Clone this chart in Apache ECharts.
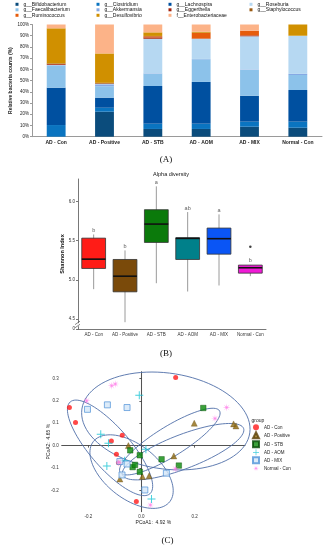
<!DOCTYPE html>
<html><head><meta charset="utf-8">
<script src="https://cdn.jsdelivr.net/npm/echarts@6/dist/echarts.min.js"></script>
<style>html,body{margin:0;padding:0;background:#fff}#c{width:326px;height:550px}</style>
</head><body><div id="c"></div>
<script>
// ---------- DATA ----------
const groups = ['AD - Con','AD - Positive','AD - STB','AD - AOM','AD - MIX','Normal - Con'];

// Panel A: relative abundance (%) per group
const bifidobacterium    = [0, 22.3, 6.9, 6.9, 8.9, 8.0];
const clostridium        = [10.4, 3.5, 4.7, 4.7, 4.5, 5.4];
const lachnospira        = [33.3, 9.0, 33.6, 37.2, 23.1, 28.2];
const faecalibacterium   = [19.8, 10.2, 11.0, 20.2, 23.2, 13.4];
const akkermansia        = [0.3, 1.7, 0.3, 0.3, 0.3, 1.0];
const roseburia          = [0.2, 0.3, 30.8, 17.9, 29.5, 34.0];
const eggerthella        = [0.7, 0.3, 1.2, 0.3, 0.8, 0];
const ruminococcus       = [0.1, 0.1, 1.0, 5.0, 4.2, 0];
const staphylococcus     = [0.5, 0.6, 0.3, 0.2, 0, 0];
const desulfovibrio      = [31.3, 26.2, 3.2, 0.8, 0, 10.0];
const enterobacteriaceae = [3.4, 25.8, 7.0, 6.5, 5.5, 0];
const legendRow1 = ['g__Bifidobacterium','g__Clostridium','g__Lachnospira','g__Roseburia'];
const legendRow2 = ['g__Faecalibacterium','g__Akkermansia','g__Eggerthella','g__Staphylococcus'];
const legendRow3 = ['g__Ruminococcus','g__Desulfovibrio','f__Enterobacteriaceae'];

// Panel B: Shannon index boxplots
const boxLow    = [4.88, 4.457, 4.956, 4.85, 4.927, 5.046];
const boxQ1     = [5.145, 4.846, 5.478, 5.26, 5.328, 5.085];
const boxMedian = [5.264, 5.046, 5.713, 5.53, 5.526, 5.154];
const boxQ3     = [5.533, 5.26, 5.897, 5.538, 5.662, 5.188];
const boxHigh   = [5.58, 5.376, 6.196, 5.867, 5.837, 5.19];
const letters   = ['b','b','a','ab','a','b'];
const outliers  = [[5, 5.423]];
const shannonTicks = [4.37, 4.5, 5.0, 5.5, 6.0];

// Panel C: PCoA points
const pcoaADCon = [[0.129,0.304],[-0.271,0.170],[-0.248,0.103],[-0.113,0.021],[-0.072,0.046],[-0.094,-0.038],[-0.086,-0.076],[-0.019,-0.250]];
const pcoaADPositive = [[-0.049,0.0],[-0.081,-0.149],[0.004,-0.138],[0.029,-0.135],[0.122,-0.046],[0.199,0.100],[0.347,0.097],[0.356,0.088]];
const pcoaADSTB = [[0.233,0.168],[-0.042,-0.021],[-0.006,-0.043],[0.076,-0.061],[0.141,-0.089],[-0.033,-0.096],[-0.024,-0.086],[-0.006,-0.117]];
const pcoaADAOM = [[-0.008,0.225],[-0.153,0.051],[-0.124,0.011],[0.017,-0.016],[-0.130,-0.091],[-0.063,-0.068],[0.038,-0.238]];
const pcoaADMIX = [[-0.203,0.162],[-0.128,0.182],[-0.054,0.170],[-0.081,-0.071],[-0.054,-0.082],[-0.073,-0.131],[0.013,-0.198],[0.094,-0.123]];
const pcoaNormal = [[-0.112,0.267],[-0.098,0.275],[-0.206,0.200],[0.321,0.170],[0.277,0.121],[0.128,-0.104],[0.034,-0.265],[-0.085,-0.074]];
// confidence ellipses: centre x, centre y, conjugate semi-axis vectors (u, v)
const ellipses = [
  [0.092, 0.110, 0.316, -0.053, -0.025, -0.212],
  [-0.118, -0.010, 0.150, -0.205, -0.057, -0.059],
  [-0.037, -0.116, 0.144, -0.134, -0.062, -0.095],
  [0.107, 0.018, 0.187, 0.1375, 0.0295, -0.057],
  [0.157, -0.027, 0.2276, 0.104, 0.0229, -0.071]
];
const pcoaXTicks = [-0.2, 0, 0.2];
const pcoaYTicks = [-0.2,-0.1,0,0.1,0.2,0.3];

// ---------- CHART ----------
const F = '"Liberation Sans", Arial, sans-serif';
const chart = echarts.init(document.getElementById('c'));

const stackDefs = [
  ['g__Bifidobacterium', bifidobacterium, '#0b4c7c'],
  ['g__Clostridium', clostridium, '#0a74c0'],
  ['g__Lachnospira', lachnospira, '#0050a0'],
  ['g__Faecalibacterium', faecalibacterium, '#8cc2ea'],
  ['g__Akkermansia', akkermansia, '#86a9e4'],
  ['g__Roseburia', roseburia, '#b6d8f2'],
  ['g__Eggerthella', eggerthella, '#a3220c'],
  ['g__Ruminococcus', ruminococcus, '#e65c0c'],
  ['g__Staphylococcus', staphylococcus, '#9a5a12'],
  ['g__Desulfovibrio', desulfovibrio, '#d09000'],
  ['f__Enterobacteriaceae', enterobacteriaceae, '#fcb388']
];
const boxColors = ['#ff1c17','#7a4a0a','#0b7a0b','#00808a','#0a55f5','#f01ad6'];

// symbol paths
const plusPath = 'path://M4.4,0H5.6V4.4H10V5.6H5.6V10H4.4V5.6H0V4.4H4.4Z';
const starPath = (function(){
  let s = 'path://';
  for (let k = 0; k < 16; k++) {
    const a = k * Math.PI / 8 - Math.PI / 2;
    const r = (k % 2 === 0) ? 5 : 1.1;
    s += (k === 0 ? 'M' : 'L') + (5 + r * Math.cos(a)).toFixed(3) + ',' + (5 + r * Math.sin(a)).toFixed(3);
  }
  return s + 'Z';
})();

// legend grid for panel A (one component per cell, to keep columns aligned)
const colLefts = [15.5, 96.5, 168.5, 249.5];
const rowTops = [1.8, 7.3, 12.8];
const legendsA = [];
[legendRow1, legendRow2, legendRow3].forEach((row, r) => {
  row.forEach((name, c) => {
    legendsA.push({
      data: [name], top: rowTops[r], left: colLefts[c], orient: 'horizontal', padding: 0,
      itemWidth: 3, itemHeight: 3, icon: 'rect', selectedMode: false,
      textStyle: {fontSize: 5, fontFamily: F, color: '#111'}
    });
  });
});

const series = [];
stackDefs.forEach(d => {
  series.push({
    name: d[0], type: 'bar', stack: 'taxa', xAxisIndex: 0, yAxisIndex: 0,
    data: d[1], barWidth: '39%', itemStyle: {color: d[2]}, silent: true
  });
});

series.push({
  name: 'box', type: 'custom', xAxisIndex: 1, yAxisIndex: 1,
  data: groups.map((g, i) => [i, boxLow[i], boxQ1[i], boxMedian[i], boxQ3[i], boxHigh[i]]),
  encode: {x: 0, y: [1,2,3,4,5]},
  renderItem: function(params, api) {
    const i = api.value(0);
    const w = api.size([1, 0])[0] * 0.76;
    const pLow = api.coord([i, api.value(1)]);
    const pQ1 = api.coord([i, api.value(2)]);
    const pMed = api.coord([i, api.value(3)]);
    const pQ3 = api.coord([i, api.value(4)]);
    const pHigh = api.coord([i, api.value(5)]);
    const x = pLow[0];
    return {type: 'group', children: [
      {type: 'line', shape: {x1: x, y1: pHigh[1], x2: x, y2: pLow[1]}, style: {stroke: '#9a9a9a', lineWidth: 1}},
      {type: 'rect', shape: {x: x - w / 2, y: pQ3[1], width: w, height: pQ1[1] - pQ3[1]}, style: {fill: boxColors[i], stroke: '#333', lineWidth: 0.8}},
      {type: 'line', shape: {x1: x - w / 2, y1: pMed[1], x2: x + w / 2, y2: pMed[1]}, style: {stroke: '#111', lineWidth: 1.6}}
    ]};
  }
});
series.push({
  name: 'letters', type: 'scatter', xAxisIndex: 1, yAxisIndex: 1, symbolSize: 0,
  data: groups.map((g, i) => [i, boxHigh[i]]),
  label: {show: true, position: 'top', distance: 1, fontSize: 5.5, fontFamily: F, color: '#333',
    formatter: p => letters[p.dataIndex]}, silent: true
});
series.push({
  name: 'outlier', type: 'scatter', xAxisIndex: 1, yAxisIndex: 1, symbolSize: 2.5,
  itemStyle: {color: '#111'}, data: outliers, silent: true
});

series.push({
  name: 'ellipse', type: 'custom', xAxisIndex: 2, yAxisIndex: 2, z: 1, clip: false,
  data: ellipses, encode: {x: 0, y: 1}, silent: true,
  renderItem: function(params, api) {
    const cx = api.value(0), cy = api.value(1), ux = api.value(2), uy = api.value(3), vx = api.value(4), vy = api.value(5);
    const pts = [];
    for (let k = 0; k <= 90; k++) {
      const t = k / 90 * Math.PI * 2;
      pts.push(api.coord([cx + ux * Math.cos(t) + vx * Math.sin(t), cy + uy * Math.cos(t) + vy * Math.sin(t)]));
    }
    return {type: 'polyline', shape: {points: pts}, style: {fill: null, stroke: '#4f6ea8', lineWidth: 0.9}};
  }
});

const scatterDefs = [
  ['AD - Con', pcoaADCon, 'circle', 5, {color: '#ff1a1a'}],
  ['AD - Positive', pcoaADPositive, 'triangle', 6, {color: '#8f6a10', borderColor: '#5a4008', borderWidth: 0.4}],
  ['AD - STB', pcoaADSTB, 'rect', 5.5, {color: '#0a8a0a', borderColor: '#064a06', borderWidth: 0.5}],
  ['AD - AOM', pcoaADAOM, plusPath, 8, {color: '#14c3d3'}],
  ['AD - MIX', pcoaADMIX, 'rect', 6, {color: '#d3e6f8', borderColor: '#4f93d8', borderWidth: 0.9}],
  ['Normal - Con', pcoaNormal, starPath, 8, {color: '#ff6ee6'}]
];
scatterDefs.forEach((d, idx) => {
  const s = {
    name: d[0], type: 'scatter', xAxisIndex: 2, yAxisIndex: 2, z: 3,
    data: d[1], symbol: d[2], symbolSize: d[3], itemStyle: d[4], silent: true
  };
  if (idx === 0) {
    s.markLine = {
      silent: true, symbol: 'none', label: {show: false}, z: 0,
      lineStyle: {color: '#cfcfcf', width: 1.2, type: 'solid'},
      data: [{xAxis: 0}, {yAxis: 0}]
    };
  }
  series.push(s);
});

const axisTxt = {fontFamily: F, fontSize: 4.5, color: '#333'};

chart.setOption({
  animation: false,
  backgroundColor: '#fff',
  textStyle: {fontFamily: F},
  legend: legendsA.concat([
    {
      data: groups, left: 252, top: 424.3, orient: 'vertical', padding: 0,
      itemWidth: 6, itemHeight: 6, itemGap: 1, selectedMode: false,
      textStyle: {fontSize: 4.5, fontFamily: F, color: '#222'}
    }
  ]),
  grid: [
    {left: 30, top: 24.5, width: 292, height: 112.2},
    {left: 78, top: 179, width: 188, height: 150},
    {left: 61.7, top: 371.7, width: 183.3, height: 140}
  ],
  xAxis: [
    {type: 'category', gridIndex: 0, data: groups,
      axisLine: {lineStyle: {color: '#9a9a9a', width: 1}}, axisTick: {show: false},
      axisLabel: {interval: 0, fontFamily: F, fontSize: 5, fontWeight: 'bold', color: '#222', margin: 3}},
    {type: 'category', gridIndex: 1, data: groups,
      axisLine: {lineStyle: {color: '#555', width: 0.8}},
      axisTick: {alignWithLabel: true, interval: 0, length: 2, lineStyle: {color: '#555', width: 0.8}},
      axisLabel: Object.assign({margin: 3, interval: 0}, axisTxt)},
    {type: 'value', gridIndex: 2, min: -0.3, max: 0.39,
      axisLine: {show: true, lineStyle: {color: '#333', width: 0.8}},
      axisTick: {show: true, length: 2, customValues: pcoaXTicks, lineStyle: {color: '#333', width: 0.8}},
      axisLabel: Object.assign({margin: 3, customValues: pcoaXTicks, formatter: v => Number(v).toFixed(1)}, axisTxt),
      splitLine: {show: false},
      name: 'PCoA1:  4.92 %', nameLocation: 'middle', nameGap: 8, nameMoveOverlap: false,
      nameTextStyle: {fontFamily: F, fontSize: 5, color: '#222'}}
  ],
  yAxis: [
    {type: 'value', gridIndex: 0, min: 0, max: 100, interval: 10,
      axisLine: {show: true, lineStyle: {color: '#9a9a9a', width: 1}},
      axisTick: {show: true, length: 2, lineStyle: {color: '#9a9a9a'}},
      axisLabel: Object.assign({margin: 3, formatter: '{value}%'}, axisTxt, {color: '#222'}),
      splitLine: {show: false},
      name: 'Relative bacteria counts (%)', nameLocation: 'middle', nameGap: 19, nameMoveOverlap: false,
      nameTextStyle: {fontFamily: F, fontSize: 5, fontWeight: 'bold', color: '#222'}},
    {type: 'value', gridIndex: 1, min: 4.37, max: 6.29,
      axisLine: {show: true, lineStyle: {color: '#555', width: 0.8}},
      axisTick: {show: true, length: 2, customValues: shannonTicks, lineStyle: {color: '#555', width: 0.8}},
      axisLabel: Object.assign({margin: 3, customValues: shannonTicks,
        formatter: v => (v < 4.4 ? '0' : Number(v).toFixed(1))}, axisTxt),
      splitLine: {show: false},
      name: 'Shannon Index', nameLocation: 'middle', nameGap: 13, nameMoveOverlap: false,
      nameTextStyle: {fontFamily: F, fontSize: 5.5, fontWeight: 'bold', color: '#111'}},
    {type: 'value', gridIndex: 2, min: -0.295, max: 0.33,
      axisLine: {show: true, lineStyle: {color: '#333', width: 0.8}},
      axisTick: {show: true, length: 2, customValues: pcoaYTicks, lineStyle: {color: '#333', width: 0.8}},
      axisLabel: Object.assign({margin: 3, customValues: pcoaYTicks, formatter: v => Number(v).toFixed(1)}, axisTxt),
      splitLine: {show: false},
      name: 'PCoA2:  4.65 %', nameLocation: 'middle', nameGap: 11, nameMoveOverlap: false,
      nameTextStyle: {fontFamily: F, fontSize: 5, color: '#222'}}
  ],
  series: series
});

// decorations: panel labels, titles, axis break
const yb1 = chart.convertToPixel({yAxisIndex: 1}, 4.445);
const yb2 = chart.convertToPixel({yAxisIndex: 1}, 4.405);
const axX = 78;
const serif = '"Liberation Serif", "Times New Roman", serif';
chart.setOption({
  graphic: [
    {type: 'text', x: 166, y: 160, style: {text: '(A)', fontFamily: serif, fontSize: 9, fill: '#111', align: 'center', verticalAlign: 'middle'}},
    {type: 'text', x: 171, y: 174.5, style: {text: 'Alpha diversity', fontFamily: F, fontSize: 5.5, fill: '#111', align: 'center', verticalAlign: 'middle'}},
    {type: 'text', x: 166, y: 353.5, style: {text: '(B)', fontFamily: serif, fontSize: 9, fill: '#111', align: 'center', verticalAlign: 'middle'}},
    {type: 'text', x: 167.5, y: 540.5, style: {text: '(C)', fontFamily: serif, fontSize: 9, fill: '#111', align: 'center', verticalAlign: 'middle'}},
    {type: 'text', x: 251.5, y: 420.5, style: {text: 'group', fontFamily: F, fontSize: 5, fill: '#222', align: 'left', verticalAlign: 'middle'}},
    {type: 'rect', shape: {x: axX - 2, y: yb1, width: 4, height: yb2 - yb1}, style: {fill: '#fff'}, z: 100},
    {type: 'line', shape: {x1: axX - 3, y1: yb1 + 1.5, x2: axX + 2, y2: yb1 - 2}, style: {stroke: '#555', lineWidth: 0.7}, z: 101},
    {type: 'line', shape: {x1: axX - 3, y1: yb2 + 1.5, x2: axX + 2, y2: yb2 - 2}, style: {stroke: '#555', lineWidth: 0.7}, z: 101}
  ]
});
</script>
</body></html>
